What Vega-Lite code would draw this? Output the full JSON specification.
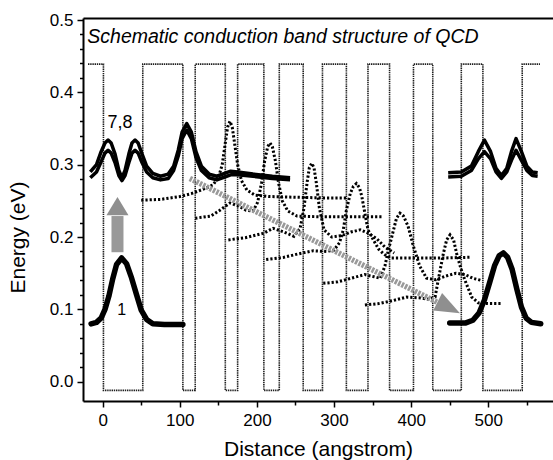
{
"$schema": "https://vega.github.io/schema/vega-lite/v6.json",
"width": 470, "height": 383,
"autosize": "none",
"padding": {"left": 83, "top": 18, "right": 0, "bottom": 59},
"background": "white",
"config": {"view": {"stroke": null}, "font": "Liberation Sans"},
"datasets": {
"band": [
{"i":0,"x":-19,"y":0.439},{"i":1,"x":1,"y":0.439},{"i":2,"x":1,"y":-0.012},{"i":3,"x":52,"y":-0.012},{"i":4,"x":52,"y":0.439},{"i":5,"x":104,"y":0.439},{"i":6,"x":104,"y":-0.012},{"i":7,"x":120,"y":-0.012},{"i":8,"x":120,"y":0.439},{"i":9,"x":159,"y":0.439},{"i":10,"x":159,"y":-0.012},{"i":11,"x":175,"y":-0.012},{"i":12,"x":175,"y":0.439},{"i":13,"x":209,"y":0.439},{"i":14,"x":209,"y":-0.012},{"i":15,"x":229,"y":-0.012},{"i":16,"x":229,"y":0.439},{"i":17,"x":260,"y":0.439},{"i":18,"x":260,"y":-0.012},{"i":19,"x":285,"y":-0.012},{"i":20,"x":285,"y":0.439},{"i":21,"x":316,"y":0.439},{"i":22,"x":316,"y":-0.012},{"i":23,"x":344,"y":-0.012},{"i":24,"x":344,"y":0.439},{"i":25,"x":372,"y":0.439},{"i":26,"x":372,"y":-0.012},{"i":27,"x":403,"y":-0.012},{"i":28,"x":403,"y":0.439},{"i":29,"x":428,"y":0.439},{"i":30,"x":428,"y":-0.012},{"i":31,"x":465,"y":-0.012},{"i":32,"x":465,"y":0.439},{"i":33,"x":493,"y":0.439},{"i":34,"x":493,"y":-0.012},{"i":35,"x":544,"y":-0.012},{"i":36,"x":544,"y":0.439},{"i":37,"x":567,"y":0.439}
],
"cascade": [
{"s":"S1","x":50,"y":0.251},{"s":"S1","x":75,"y":0.252},{"s":"S1","x":100,"y":0.256},{"s":"S1","x":115,"y":0.26},{"s":"S1","x":130,"y":0.266},{"s":"S1","x":143,"y":0.272},{"s":"S1","x":150,"y":0.282},{"s":"S1","x":155,"y":0.3},{"s":"S1","x":159,"y":0.33},{"s":"S1","x":162,"y":0.352},{"s":"S1","x":165,"y":0.36},{"s":"S1","x":168,"y":0.352},{"s":"S1","x":171,"y":0.33},{"s":"S1","x":175,"y":0.3},{"s":"S1","x":180,"y":0.278},{"s":"S1","x":187,"y":0.265},{"s":"S1","x":197,"y":0.258},{"s":"S1","x":215,"y":0.256},{"s":"S1","x":250,"y":0.255},{"s":"S1","x":290,"y":0.254},{"s":"S1","x":318,"y":0.254},
{"s":"S2","x":120,"y":0.226},{"s":"S2","x":140,"y":0.229},{"s":"S2","x":152,"y":0.237},{"s":"S2","x":165,"y":0.247},{"s":"S2","x":176,"y":0.243},{"s":"S2","x":186,"y":0.237},{"s":"S2","x":195,"y":0.236},{"s":"S2","x":201,"y":0.248},{"s":"S2","x":206,"y":0.275},{"s":"S2","x":210,"y":0.305},{"s":"S2","x":214,"y":0.325},{"s":"S2","x":217,"y":0.33},{"s":"S2","x":220,"y":0.325},{"s":"S2","x":224,"y":0.305},{"s":"S2","x":228,"y":0.275},{"s":"S2","x":233,"y":0.25},{"s":"S2","x":240,"y":0.236},{"s":"S2","x":252,"y":0.229},{"s":"S2","x":280,"y":0.228},{"s":"S2","x":320,"y":0.228},{"s":"S2","x":362,"y":0.228},
{"s":"S3","x":163,"y":0.196},{"s":"S3","x":185,"y":0.199},{"s":"S3","x":208,"y":0.205},{"s":"S3","x":221,"y":0.212},{"s":"S3","x":235,"y":0.207},{"s":"S3","x":248,"y":0.201},{"s":"S3","x":256,"y":0.212},{"s":"S3","x":261,"y":0.24},{"s":"S3","x":265,"y":0.275},{"s":"S3","x":268,"y":0.296},{"s":"S3","x":271,"y":0.302},{"s":"S3","x":274,"y":0.296},{"s":"S3","x":277,"y":0.275},{"s":"S3","x":281,"y":0.24},{"s":"S3","x":287,"y":0.21},{"s":"S3","x":297,"y":0.2},{"s":"S3","x":310,"y":0.202},{"s":"S3","x":322,"y":0.207},{"s":"S3","x":334,"y":0.21},{"s":"S3","x":345,"y":0.205},{"s":"S3","x":356,"y":0.197},{"s":"S3","x":366,"y":0.186},{"s":"S3","x":378,"y":0.178},
{"s":"S4","x":212,"y":0.169},{"s":"S4","x":235,"y":0.172},{"s":"S4","x":255,"y":0.177},{"s":"S4","x":273,"y":0.181},{"s":"S4","x":290,"y":0.18},{"s":"S4","x":300,"y":0.182},{"s":"S4","x":307,"y":0.192},{"s":"S4","x":312,"y":0.21},{"s":"S4","x":316,"y":0.237},{"s":"S4","x":321,"y":0.26},{"s":"S4","x":325,"y":0.27},{"s":"S4","x":329,"y":0.274},{"s":"S4","x":333,"y":0.268},{"s":"S4","x":336,"y":0.256},{"s":"S4","x":340,"y":0.233},{"s":"S4","x":344,"y":0.21},{"s":"S4","x":351,"y":0.196},{"s":"S4","x":358,"y":0.183},{"s":"S4","x":365,"y":0.176},{"s":"S4","x":373,"y":0.171},{"s":"S4","x":400,"y":0.171},{"s":"S4","x":440,"y":0.171},{"s":"S4","x":476,"y":0.172},
{"s":"S5","x":286,"y":0.136},{"s":"S5","x":305,"y":0.138},{"s":"S5","x":322,"y":0.143},{"s":"S5","x":340,"y":0.148},{"s":"S5","x":352,"y":0.145},{"s":"S5","x":360,"y":0.143},{"s":"S5","x":366,"y":0.16},{"s":"S5","x":370,"y":0.18},{"s":"S5","x":376,"y":0.205},{"s":"S5","x":381,"y":0.226},{"s":"S5","x":385.5,"y":0.233},{"s":"S5","x":390,"y":0.229},{"s":"S5","x":396,"y":0.215},{"s":"S5","x":403,"y":0.187},{"s":"S5","x":411,"y":0.16},{"s":"S5","x":420,"y":0.143},{"s":"S5","x":432,"y":0.141},{"s":"S5","x":445,"y":0.146},{"s":"S5","x":458,"y":0.15},{"s":"S5","x":470,"y":0.148},{"s":"S5","x":480,"y":0.143},{"s":"S5","x":491,"y":0.14},
{"s":"S6","x":340,"y":0.106},{"s":"S6","x":358,"y":0.108},{"s":"S6","x":376,"y":0.112},{"s":"S6","x":394,"y":0.117},{"s":"S6","x":410,"y":0.116},{"s":"S6","x":422,"y":0.114},{"s":"S6","x":431,"y":0.117},{"s":"S6","x":435,"y":0.14},{"s":"S6","x":441.7,"y":0.177},{"s":"S6","x":446,"y":0.196},{"s":"S6","x":450.4,"y":0.203},{"s":"S6","x":455,"y":0.196},{"s":"S6","x":459,"y":0.177},{"s":"S6","x":464,"y":0.158},{"s":"S6","x":469.8,"y":0.14},{"s":"S6","x":478.5,"y":0.117},{"s":"S6","x":487,"y":0.109},{"s":"S6","x":500,"y":0.108},{"s":"S6","x":517,"y":0.108}
],
"ground": [
{"s":"g1","x":-15,"y":0.08},{"s":"g1","x":-8,"y":0.082},{"s":"g1","x":-2,"y":0.088},{"s":"g1","x":3,"y":0.1},{"s":"g1","x":8,"y":0.118},{"s":"g1","x":13,"y":0.142},{"s":"g1","x":18,"y":0.162},{"s":"g1","x":24.6,"y":0.171},{"s":"g1","x":31,"y":0.163},{"s":"g1","x":37,"y":0.145},{"s":"g1","x":44,"y":0.12},{"s":"g1","x":50,"y":0.099},{"s":"g1","x":57,"y":0.086},{"s":"g1","x":65,"y":0.08},{"s":"g1","x":80,"y":0.079},{"s":"g1","x":104,"y":0.079},
{"s":"g1R","x":450,"y":0.081},{"s":"g1R","x":470,"y":0.081},{"s":"g1R","x":480,"y":0.085},{"s":"g1R","x":488,"y":0.095},{"s":"g1R","x":495,"y":0.113},{"s":"g1R","x":502,"y":0.138},{"s":"g1R","x":508,"y":0.16},{"s":"g1R","x":514,"y":0.174},{"s":"g1R","x":519.5,"y":0.178},{"s":"g1R","x":525,"y":0.172},{"s":"g1R","x":531,"y":0.155},{"s":"g1R","x":537,"y":0.128},{"s":"g1R","x":543,"y":0.103},{"s":"g1R","x":549,"y":0.088},{"s":"g1R","x":556,"y":0.082},{"s":"g1R","x":568,"y":0.08}
],
"upper": [
{"s":"u8L","x":-16,"y":0.29},{"s":"u8L","x":-8,"y":0.3},{"s":"u8L","x":-2,"y":0.318},{"s":"u8L","x":3,"y":0.33},{"s":"u8L","x":7,"y":0.334},{"s":"u8L","x":11,"y":0.33},{"s":"u8L","x":16,"y":0.315},{"s":"u8L","x":21,"y":0.292},{"s":"u8L","x":25,"y":0.282},{"s":"u8L","x":29,"y":0.292},{"s":"u8L","x":34,"y":0.315},{"s":"u8L","x":38,"y":0.33},{"s":"u8L","x":42,"y":0.334},{"s":"u8L","x":46,"y":0.33},{"s":"u8L","x":51,"y":0.315},{"s":"u8L","x":57,"y":0.298},{"s":"u8L","x":65,"y":0.288},{"s":"u8L","x":75,"y":0.284},{"s":"u8L","x":85,"y":0.287},{"s":"u8L","x":92,"y":0.298},{"s":"u8L","x":98,"y":0.32},{"s":"u8L","x":103,"y":0.345},{"s":"u8L","x":109,"y":0.357},{"s":"u8L","x":115,"y":0.345},{"s":"u8L","x":121,"y":0.318},{"s":"u8L","x":128,"y":0.298},{"s":"u8L","x":138,"y":0.287},{"s":"u8L","x":148,"y":0.284},{"s":"u8L","x":158,"y":0.288},{"s":"u8L","x":166,"y":0.291},{"s":"u8L","x":175,"y":0.29},{"s":"u8L","x":195,"y":0.287},{"s":"u8L","x":220,"y":0.284},{"s":"u8L","x":243,"y":0.282},
{"s":"u7L","x":-16,"y":0.282},{"s":"u7L","x":-8,"y":0.29},{"s":"u7L","x":-2,"y":0.304},{"s":"u7L","x":3,"y":0.316},{"s":"u7L","x":7,"y":0.32},{"s":"u7L","x":11,"y":0.316},{"s":"u7L","x":16,"y":0.303},{"s":"u7L","x":21,"y":0.285},{"s":"u7L","x":25,"y":0.278},{"s":"u7L","x":29,"y":0.285},{"s":"u7L","x":34,"y":0.303},{"s":"u7L","x":38,"y":0.316},{"s":"u7L","x":42,"y":0.32},{"s":"u7L","x":46,"y":0.316},{"s":"u7L","x":51,"y":0.303},{"s":"u7L","x":57,"y":0.29},{"s":"u7L","x":65,"y":0.282},{"s":"u7L","x":75,"y":0.279},{"s":"u7L","x":85,"y":0.281},{"s":"u7L","x":92,"y":0.292},{"s":"u7L","x":98,"y":0.312},{"s":"u7L","x":103,"y":0.336},{"s":"u7L","x":109,"y":0.348},{"s":"u7L","x":115,"y":0.336},{"s":"u7L","x":121,"y":0.31},{"s":"u7L","x":128,"y":0.292},{"s":"u7L","x":138,"y":0.282},{"s":"u7L","x":148,"y":0.279},{"s":"u7L","x":158,"y":0.283},{"s":"u7L","x":166,"y":0.286},{"s":"u7L","x":175,"y":0.286},{"s":"u7L","x":195,"y":0.284},{"s":"u7L","x":220,"y":0.281},{"s":"u7L","x":243,"y":0.279},
{"s":"u8R","x":448,"y":0.289},{"s":"u8R","x":465,"y":0.29},{"s":"u8R","x":478,"y":0.298},{"s":"u8R","x":487,"y":0.318},{"s":"u8R","x":495,"y":0.334},{"s":"u8R","x":503,"y":0.318},{"s":"u8R","x":510,"y":0.295},{"s":"u8R","x":517,"y":0.285},{"s":"u8R","x":524,"y":0.295},{"s":"u8R","x":530,"y":0.318},{"s":"u8R","x":536,"y":0.336},{"s":"u8R","x":543,"y":0.318},{"s":"u8R","x":550,"y":0.298},{"s":"u8R","x":557,"y":0.29},{"s":"u8R","x":564,"y":0.289},
{"s":"u7R","x":448,"y":0.283},{"s":"u7R","x":465,"y":0.284},{"s":"u7R","x":478,"y":0.292},{"s":"u7R","x":487,"y":0.308},{"s":"u7R","x":495,"y":0.318},{"s":"u7R","x":503,"y":0.308},{"s":"u7R","x":510,"y":0.29},{"s":"u7R","x":517,"y":0.281},{"s":"u7R","x":524,"y":0.29},{"s":"u7R","x":530,"y":0.306},{"s":"u7R","x":536,"y":0.32},{"s":"u7R","x":543,"y":0.306},{"s":"u7R","x":550,"y":0.292},{"s":"u7R","x":557,"y":0.285},{"s":"u7R","x":564,"y":0.284}
],
"shaft": [{"x":113,"y":0.281},{"x":437,"y":0.108}],
"vshaft": [{"x":19.2,"y":0.179,"y2":0.229}],
"headUp": [{"x":19.2,"y":0.24}],
"headDiag": [{"x":447.2,"y":0.1035}],
"caption": [{"x":-19.9,"y":0.468,"t":"Schematic conduction band structure of QCD"}],
"levels": [{"x":22.5,"y":0.351,"t":"7,8"}],
"levels1": [{"x":24.6,"y":0.092,"t":"1"}]
},
"layer": [
{"data":{"name":"band"},"mark":{"type":"line","stroke":"#1e1e1e","strokeWidth":1.6,"strokeDash":[1.4,0.8]},
 "encoding":{
  "x":{"field":"x","type":"quantitative","scale":{"domain":[-25.5,583.9],"nice":false,"zero":false},
   "axis":{"orient":"bottom","values":[0,50,100,150,200,250,300,350,400,450,500,550],"format":"d",
    "labelExpr":"datum.value % 100 == 0 ? datum.label : ''",
    "tickSize":{"condition":{"test":"datum.value % 100 == 0","value":6},"value":4},
    "tickWidth":1.5,"tickColor":"black","domainColor":"black","domainWidth":2,
    "labelFontSize":17,"labelColor":"black","labelPadding":5,"grid":false,
    "title":"Distance (angstrom)","titleFontSize":21,"titleFontWeight":"normal","titleColor":"black","titleY":54,"titleBaseline":"alphabetic"}},
  "y":{"field":"y","type":"quantitative","scale":{"domain":[-0.0267,0.5028],"nice":false,"zero":false},
   "axis":{"values":[0,0.02,0.04,0.06,0.08,0.1,0.12,0.14,0.16,0.18,0.2,0.22,0.24,0.26,0.28,0.3,0.32,0.34,0.36,0.38,0.4,0.42,0.44,0.46,0.48,0.5],
    "labelExpr":"abs(datum.value*10 - round(datum.value*10)) < 0.001 ? format(datum.value, '.1f') : ''",
    "tickSize":{"condition":{"test":"abs(datum.value*10 - round(datum.value*10)) < 0.001","value":6},"value":3.5},
    "tickWidth":1.5,"tickColor":"black","domainColor":"black","domainWidth":2,
    "labelFontSize":17,"labelColor":"black","labelPadding":4,"grid":false,
    "title":"Energy (eV)","titleFontSize":21,"titleFontWeight":"normal","titleColor":"black","titleX":-65,"titleY":219,"titleBaseline":"middle"}},
  "order":{"field":"i","type":"quantitative"}}},
{"data":{"name":"cascade"},"mark":{"type":"line","stroke":"black","strokeWidth":3,"strokeDash":[2.2,2]},
 "encoding":{
  "x":{"field":"x","type":"quantitative","scale":{"domain":[-25.5,583.9],"nice":false,"zero":false},
   "axis":{"orient":"top","labels":false,"ticks":false,"title":null,"grid":false,"domainColor":"black","domainWidth":2}},
  "y":{"field":"y","type":"quantitative","scale":{"domain":[-0.0267,0.5028],"nice":false,"zero":false},"axis":null},
  "detail":{"field":"s"}}},
{"data":{"name":"shaft"},"mark":{"type":"line","stroke":"#999999","strokeWidth":5.5,"strokeDash":[2.5,1.2]},
 "encoding":{
  "x":{"field":"x","type":"quantitative","scale":{"domain":[-25.5,583.9],"nice":false,"zero":false},"axis":null},
  "y":{"field":"y","type":"quantitative","scale":{"domain":[-0.0267,0.5028],"nice":false,"zero":false},"axis":null}}},
{"data":{"name":"vshaft"},"mark":{"type":"rule","stroke":"#999999","strokeWidth":12},
 "encoding":{
  "x":{"field":"x","type":"quantitative","scale":{"domain":[-25.5,583.9],"nice":false,"zero":false},"axis":null},
  "y":{"field":"y","type":"quantitative","scale":{"domain":[-0.0267,0.5028],"nice":false,"zero":false},"axis":null},
  "y2":{"field":"y2"}}},
{"data":{"name":"headUp"},"mark":{"type":"point","shape":"M0,-1L1,0.64L-1,0.64Z","size":484,"filled":true,"fill":"#8f8f8f","opacity":1,"strokeWidth":0},
 "encoding":{
  "x":{"field":"x","type":"quantitative","scale":{"domain":[-25.5,583.9],"nice":false,"zero":false},"axis":null},
  "y":{"field":"y","type":"quantitative","scale":{"domain":[-0.0267,0.5028],"nice":false,"zero":false},"axis":null}}},
{"data":{"name":"headDiag"},"mark":{"type":"point","shape":"M1,0L-0.8,-0.7L-0.8,0.7Z","size":772,"angle":27,"filled":true,"fill":"#8f8f8f","opacity":1,"strokeWidth":0},
 "encoding":{
  "x":{"field":"x","type":"quantitative","scale":{"domain":[-25.5,583.9],"nice":false,"zero":false},"axis":null},
  "y":{"field":"y","type":"quantitative","scale":{"domain":[-0.0267,0.5028],"nice":false,"zero":false},"axis":null}}},
{"data":{"name":"ground"},"mark":{"type":"line","stroke":"black","strokeWidth":5.5,"strokeJoin":"round","strokeCap":"round"},
 "encoding":{
  "x":{"field":"x","type":"quantitative","scale":{"domain":[-25.5,583.9],"nice":false,"zero":false},"axis":null},
  "y":{"field":"y","type":"quantitative","scale":{"domain":[-0.0267,0.5028],"nice":false,"zero":false},"axis":null},
  "detail":{"field":"s"}}},
{"data":{"name":"upper"},"mark":{"type":"line","stroke":"black","strokeWidth":3.5,"strokeJoin":"round"},
 "encoding":{
  "x":{"field":"x","type":"quantitative","scale":{"domain":[-25.5,583.9],"nice":false,"zero":false},"axis":null},
  "y":{"field":"y","type":"quantitative","scale":{"domain":[-0.0267,0.5028],"nice":false,"zero":false},"axis":null},
  "detail":{"field":"s"}}},
{"data":{"name":"caption"},"mark":{"type":"text","align":"left","baseline":"alphabetic","fontSize":19.5,"fontStyle":"italic","font":"Liberation Sans","color":"black"},
 "encoding":{
  "x":{"field":"x","type":"quantitative","scale":{"domain":[-25.5,583.9],"nice":false,"zero":false},"axis":null},
  "y":{"field":"y","type":"quantitative","scale":{"domain":[-0.0267,0.5028],"nice":false,"zero":false},"axis":null},
  "text":{"field":"t"}}},
{"data":{"name":"levels"},"mark":{"type":"text","align":"center","baseline":"alphabetic","fontSize":18,"font":"Liberation Sans","color":"black"},
 "encoding":{
  "x":{"field":"x","type":"quantitative","scale":{"domain":[-25.5,583.9],"nice":false,"zero":false},"axis":null},
  "y":{"field":"y","type":"quantitative","scale":{"domain":[-0.0267,0.5028],"nice":false,"zero":false},"axis":null},
  "text":{"field":"t"}}},
{"data":{"name":"levels1"},"mark":{"type":"text","align":"center","baseline":"alphabetic","fontSize":16,"font":"Liberation Sans","color":"black"},
 "encoding":{
  "x":{"field":"x","type":"quantitative","scale":{"domain":[-25.5,583.9],"nice":false,"zero":false},"axis":null},
  "y":{"field":"y","type":"quantitative","scale":{"domain":[-0.0267,0.5028],"nice":false,"zero":false},"axis":null},
  "text":{"field":"t"}}}
],
"resolve": {"axis": {"x": "independent", "y": "independent"}}
}
